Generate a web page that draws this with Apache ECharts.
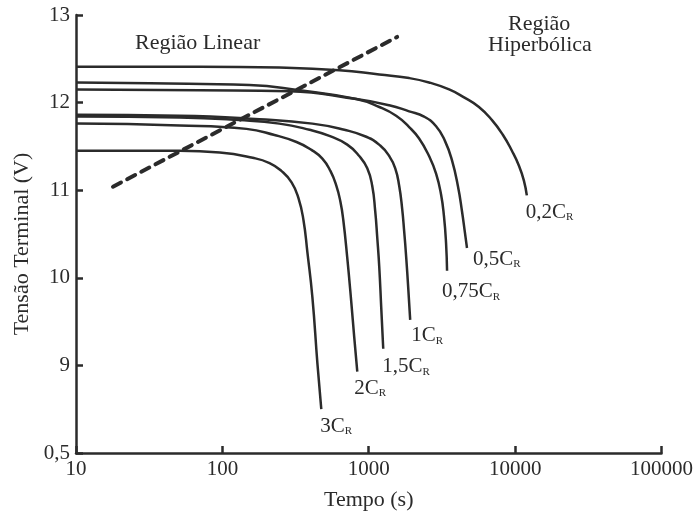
<!DOCTYPE html>
<html>
<head>
<meta charset="utf-8">
<script src="https://cdn.jsdelivr.net/npm/echarts@6/dist/echarts.min.js"></script>
<style>
  html, body { margin: 0; padding: 0; background: #fff; }
  #main { width: 696px; height: 516px; }
</style>
</head>
<body>
<div id="main"></div>
<script>
// curvas de descarga: tempo (s) e tensao (V)
var tempo02  = [10, 70, 245, 630, 1180, 1888, 2582, 3540, 4477, 5660, 6950, 8260, 9506, 10620, 11480, 12020];
var tensao02 = [12.41, 12.41, 12.40, 12.37, 12.32, 12.28, 12.23, 12.15, 12.06, 11.95, 11.80, 11.63, 11.45, 11.28, 11.11, 10.94];

var tempo05  = [10, 70, 287, 822, 1380, 1888, 2388, 2884, 3320, 3705, 4074, 4335, 4545, 4690];
var tensao05 = [12.15, 12.14, 12.13, 12.04, 11.97, 11.90, 11.84, 11.73, 11.56, 11.34, 11.04, 10.76, 10.51, 10.34];

var tempo075  = [10, 32, 153, 336, 822, 1180, 1538, 1888, 2208, 2582, 2884, 3119, 3266, 3373, 3428];
var tensao075 = [12.23, 12.22, 12.20, 12.14, 12.04, 11.95, 11.85, 11.72, 11.59, 11.39, 11.19, 10.95, 10.70, 10.40, 10.08];

var tempo1  = [10, 51, 179, 412, 681, 962, 1197, 1380, 1517, 1614, 1691, 1746, 1803, 1860, 1919];
var tensao1 = [11.86, 11.85, 11.81, 11.76, 11.69, 11.61, 11.51, 11.39, 11.25, 11.05, 10.79, 10.53, 10.23, 9.89, 9.52];

var tempo15  = [10, 51, 131, 245, 394, 538, 713, 861, 977, 1056, 1107, 1143, 1180, 1217, 1256];
var tensao15 = [11.84, 11.83, 11.80, 11.76, 11.69, 11.62, 11.52, 11.39, 11.25, 11.05, 10.76, 10.46, 10.12, 9.66, 9.19];

var tempo2  = [10, 51, 146, 227, 321, 406, 482, 547, 601, 640, 670, 713, 760, 796, 835];
var tensao2 = [11.76, 11.74, 11.70, 11.63, 11.55, 11.46, 11.36, 11.22, 11.05, 10.87, 10.66, 10.23, 9.72, 9.32, 8.93];

var tempo3  = [10, 51, 96, 161, 210, 253, 297, 331, 358, 381, 412, 446, 474];
var tensao3 = [11.45, 11.45, 11.43, 11.37, 11.31, 11.22, 11.09, 10.91, 10.66, 10.29, 9.78, 9.02, 8.50];

// linha tracejada que separa as regioes
var tempoGuia  = [17.9, 1563];
var tensaoGuia = [11.04, 12.75];

var rotulos = ['0,2', '0,5', '0,75', '1', '1,5', '2', '3'];
var deslocamentos = [[-9, 17], [-2, 11], [-13, 21], [-7, 16], [-9, 18], [-11, 17], [-9, 17]];

var yTicks = [8, 9, 10, 11, 12, 13];

function pares(t, v) {
  var out = [];
  for (var i = 0; i < t.length; i++) out.push([t[i], v[i]]);
  return out;
}

var curvas = [
  [tempo02, tensao02], [tempo05, tensao05], [tempo075, tensao075],
  [tempo1, tensao1], [tempo15, tensao15], [tempo2, tensao2], [tempo3, tensao3]
];

var fonte = '"Liberation Serif", "DejaVu Serif", serif';
var cor = '#2b2b2b';

var series = curvas.map(function (c, i) {
  return {
    name: rotulos[i] + 'C',
    type: 'line',
    data: pares(c[0], c[1]),
    showSymbol: false,
    smooth: 0.5,
    lineStyle: { color: cor, width: 2.5 },
    endLabel: {
      show: true,
      formatter: '{a|' + rotulos[i] + 'C}{b|R}',
      offset: deslocamentos[i],
      rich: {
        a: { fontFamily: fonte, fontSize: 21, color: cor },
        b: { fontFamily: fonte, fontSize: 11, color: cor, padding: [10, 0, 0, 0] }
      }
    },
    z: 3
  };
});

series.push({
  name: 'guia',
  type: 'line',
  data: pares(tempoGuia, tensaoGuia),
  showSymbol: false,
  lineStyle: { color: cor, width: 4, type: [9, 7], cap: 'round' },
  z: 2
});

var myChart = echarts.init(document.getElementById('main'));
var option = {
  animation: false,
  grid: { left: 76, right: 33, top: 15, bottom: 59 },
  xAxis: {
    type: 'log',
    logBase: 10,
    min: 10,
    max: 100000,
    name: 'Tempo (s)',
    nameLocation: 'middle',
    nameGap: 36,
    nameTextStyle: { fontFamily: fonte, fontSize: 22, color: cor },
    axisLine: { lineStyle: { color: cor, width: 2.5 } },
    axisTick: { inside: true, length: 7, lineStyle: { color: cor, width: 2.5 } },
    axisLabel: {
      fontFamily: fonte, fontSize: 21, color: cor, margin: 6,
      formatter: function (v) { return String(Math.round(v)); }
    },
    minorTick: { show: false },
    splitLine: { show: false }
  },
  yAxis: {
    type: 'value',
    min: 8,
    max: 13,
    interval: 1,
    name: 'Tensão Terminal (V)',
    nameLocation: 'middle',
    nameGap: 43,
    nameTextStyle: { fontFamily: fonte, fontSize: 22, color: cor, padding: [0, 20, 0, 0] },
    axisLine: { show: true, lineStyle: { color: cor, width: 2.5 } },
    axisTick: { show: true, inside: true, length: 7, lineStyle: { color: cor, width: 2.5 } },
    axisLabel: {
      fontFamily: fonte, fontSize: 21, color: cor, margin: 6,
      formatter: function (v) { return v === yTicks[0] ? '0,5' : String(v); }
    },
    splitLine: { show: false }
  },
  graphic: [
    { type: 'text', left: 135, top: 32, style: { text: 'Região Linear', font: '22px ' + fonte, fill: cor } },
    { type: 'text', left: 508, top: 13, style: { text: 'Região', font: '22px ' + fonte, fill: cor } },
    { type: 'text', left: 488, top: 34, style: { text: 'Hiperbólica', font: '22px ' + fonte, fill: cor } }
  ],
  series: series
};
myChart.setOption(option);
</script>
</body>
</html>
